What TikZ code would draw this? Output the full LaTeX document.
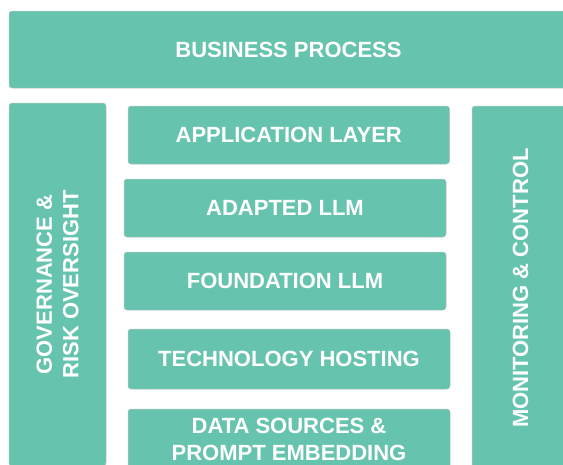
\documentclass[tikz,border=0pt]{standalone}
\usepackage{fontspec}
\setmainfont{Liberation Sans}
\definecolor{mint}{HTML}{66C4AE}
\definecolor{edge}{HTML}{B9C2BF}

\tikzset{
  layer/.style={fill=mint,draw=edge,line width=.5pt,rounded corners=3pt,
    inner sep=0pt,align=center,text=white,
    font=\bfseries\fontsize{22}{26.5}\selectfont},
  side/.style={layer,rotate=90}
}

\begin{document}
\begin{tikzpicture}[x=1pt,y=-1pt]
  \useasboundingbox (0,0) rectangle (563,464);
  \clip (0,0) rectangle (563,464);

  % Top band.
  \node[layer,minimum width=559,minimum height=77] (biz) at (288.5,49.5)
    {BUSINESS PROCESS};

  % Side columns, text reading upwards.
  \node[side,minimum width=363,minimum height=97] (gov) at (57.5,284.5)
    {GOVERNANCE \&\\RISK OVERSIGHT};
  \node[side,minimum width=364,minimum height=97] (mon) at (520.5,288)
    {MONITORING \& CONTROL};

  % Stack in the middle.
  \node[layer,minimum width=321.5,minimum height=58] (app) at (288.75,135)
    {APPLICATION LAYER};
  \node[layer,minimum width=322,minimum height=58] (adapt) at (285,208)
    {ADAPTED LLM};
  \node[layer,minimum width=322,minimum height=58] (found) at (285,281)
    {FOUNDATION LLM};
  \node[layer,minimum width=322,minimum height=60] (host) at (289,359)
    {TECHNOLOGY HOSTING};
  \node[layer,minimum width=322,minimum height=61] (data) at (289,439.5)
    {DATA SOURCES \&\\PROMPT EMBEDDING};
\end{tikzpicture}
\end{document}
